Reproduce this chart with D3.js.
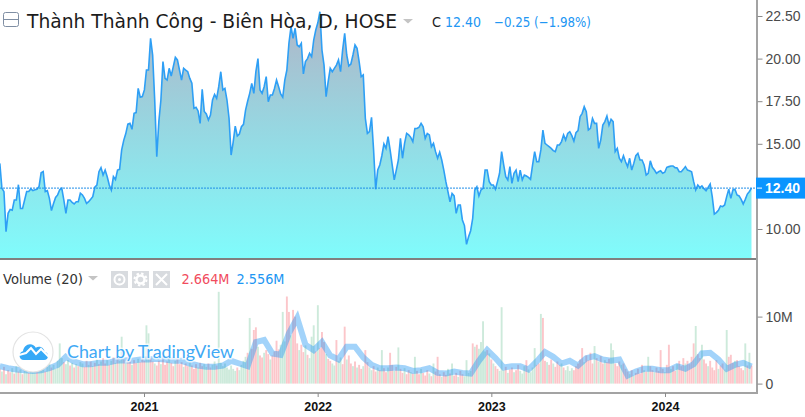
<!DOCTYPE html>
<html><head><meta charset="utf-8">
<script src="https://cdn.jsdelivr.net/npm/d3@7"></script>
<style>html,body{margin:0;padding:0;background:#fff}svg{display:block}</style></head>
<body><svg id="c" width="805" height="417"></svg>
<script>
const title = "Thành Thành Công - Biên Hòa, D, HOSE";
const lastClose = 12.40;
const priceTicks = [10, 15, 17.5, 20, 22.5];
const volumeTicks = [0, 10];
const yearTicks = ["2021", "2022", "2023", "2024"];
const firstSession = "2020-03-04";
const sessionStepDays = 4.34;
const closes = [
13.85,12.39,12.19,9.84,10.92,11.15,11.1,11.7,11.7,12.6,
11.2,11.2,11.7,12.2,12.2,12.35,12.25,12.3,12.33,12.5,
13.3,13.37,12.2,12.25,11.8,11.08,11.5,11.85,12.0,12.3,
12.39,11.7,10.92,11.7,11.7,11.56,11.47,11.6,11.6,12.1,
12.0,11.8,11.5,11.6,11.74,11.9,12.45,12.58,13.36,13.6,
13.17,13.46,13.07,12.58,12.29,13.07,12.9,13.46,13.5,14.64,
15.2,15.6,16.16,16.2,15.85,16.79,16.83,18.25,17.73,17.77,
18.16,19.33,19.33,21.19,20.2,17.57,14.24,16.3,17.57,19.82,
18.84,18.74,19.43,18.98,19.53,20.07,19.92,19.33,18.74,19.43,
19.33,19.23,18.84,18.55,17.08,17.14,16.93,16.2,18.2,16.9,
16.75,16.4,16.69,17.57,17.9,17.67,18.35,19.23,18.16,18.25,
17.57,16.5,14.34,15.1,16.04,15.46,15.57,16.0,16.14,16.98,
17.5,17.96,18.55,17.96,19.23,20.0,18.16,17.96,18.35,18.94,
17.47,17.86,17.86,18.25,18.74,18.35,17.92,17.73,18.74,19.33,
20.9,21.87,21.19,21.78,20.8,20.7,20.9,19.1,19.82,20.0,
20.31,20.11,21.09,21.68,22.1,22.75,20.5,19.62,17.77,18.65,
19.43,19.23,19.43,19.62,19.92,19.23,20.5,21.48,20.21,19.57,
19.68,20.21,20.8,20.6,19.82,18.94,19.04,16.5,15.61,15.71,
16.55,14.64,12.33,13.46,13.76,14.3,14.99,14.73,15.42,14.64,
13.76,12.88,13.46,14.05,15.32,14.15,15.03,15.61,15.52,15.38,
15.13,15.9,15.9,15.97,16.2,16.0,15.32,15.61,15.52,14.83,
15.03,14.54,14.15,14.5,14.05,13.46,12.78,12.19,11.6,12.09,
11.94,10.92,11.41,11.41,10.53,10.2,9.1,9.55,9.9,10.63,
12.29,12.48,11.94,12.29,12.39,13.46,13.46,12.78,12.58,12.58,
12.33,12.78,13.27,14.54,13.76,13.07,12.88,13.66,12.68,13.27,
13.46,12.78,13.46,12.88,13.17,13.11,13.03,12.91,13.76,14.54,
13.95,13.95,14.64,15.81,15.03,14.93,14.83,14.73,14.6,14.54,
14.93,14.93,15.13,15.52,15.22,15.61,15.71,15.48,15.16,15.65,
15.77,16.59,16.79,17.18,16.89,15.81,15.91,16.49,16.2,16.2,
14.73,15.22,16.1,16.3,16.63,16.1,16.44,16.3,14.54,14.73,
14.15,13.95,14.3,13.95,13.66,14.15,13.46,13.85,14.3,14.44,
14.05,14.05,13.76,13.17,13.27,14.0,13.62,13.46,13.27,13.36,
13.42,13.27,13.33,13.62,13.66,13.7,13.7,13.6,13.58,13.36,
13.36,13.5,13.66,13.46,13.42,13.36,12.78,12.29,12.58,12.43,
12.53,12.37,12.25,12.44,12.64,11.9,10.88,10.96,11.1,11.35,
11.31,11.41,11.9,12.33,11.8,12.29,12.33,12.0,11.94,11.74,
11.47,11.74,12.05,12.2,12.4];
const volumes = [
2.2,1.8,2.5,1.4,2.0,1.7,2.3,1.5,2.6,1.8,2.1,1.4,1.9,2.4,1.6,2.2,2.8,1.7,2.4,1.9,
2.0,2.6,1.8,2.5,3.0,2.4,2.8,2.2,3.4,6.0,3.8,3.2,2.9,3.5,2.7,3.1,2.4,2.9,2.6,3.2,
3.0,2.5,3.4,2.8,3.3,2.6,3.1,3.6,2.9,3.3,3.8,3.0,3.5,2.8,3.4,3.9,3.1,4.2,3.4,7.0,
3.6,3.0,3.9,3.3,2.8,3.5,3.1,3.7,3.2,4.0,3.4,8.7,7.5,3.8,3.3,3.0,2.7,3.4,2.9,3.6,
2.8,3.3,3.9,3.1,2.6,3.4,3.7,2.9,3.2,2.5,3.0,2.6,3.3,2.7,2.2,2.9,2.4,3.1,2.6,2.9,
2.5,3.0,2.4,2.8,3.3,2.7,13.7,3.1,2.6,3.0,2.4,2.1,2.7,2.2,1.9,2.4,2.0,2.8,3.4,4.0,
4.6,9.8,5.2,8.0,8.4,5.5,4.2,3.9,4.6,5.0,4.4,3.6,4.2,4.8,6.4,5.1,5.8,10.7,6.3,13.0,
10.7,7.2,11.0,10.0,6.0,5.0,5.8,4.7,5.7,4.3,3.8,7.0,8.7,4.8,11.7,5.3,7.7,6.2,4.4,3.7,
3.4,3.0,2.7,6.5,3.4,3.9,2.9,8.5,3.6,4.2,3.0,2.6,3.3,2.4,2.8,2.2,2.6,5.0,3.2,2.4,
2.0,2.6,1.8,2.4,2.0,5.0,2.3,1.7,2.4,4.6,2.8,1.9,2.5,5.4,2.2,1.6,2.3,1.4,2.0,1.7,
1.5,4.0,1.9,1.4,2.2,1.6,1.2,2.0,1.5,1.1,3.0,1.8,4.0,1.4,1.0,1.7,1.3,2.2,1.5,3.0,
1.2,1.6,1.0,1.9,1.4,1.1,3.5,1.6,1.9,6.0,5.5,5.8,5.2,6.2,9.3,4.8,5.0,4.5,3.6,3.0,
2.6,2.2,1.9,11.4,2.0,2.5,1.6,2.1,2.4,1.7,2.0,2.8,1.9,1.5,2.6,3.5,2.1,1.7,2.4,5.3,
2.8,3.0,10.4,9.8,3.4,3.2,2.8,3.6,3.0,2.5,3.3,2.8,3.0,2.4,2.0,2.6,1.9,2.3,2.0,2.6,
3.0,3.6,5.3,3.2,4.2,3.5,4.6,3.0,5.6,3.8,3.3,4.1,3.0,3.5,3.2,3.7,6.0,5.0,3.0,2.6,
3.3,2.8,3.0,2.2,1.8,1.4,2.0,1.2,1.6,2.2,1.5,2.8,2.0,1.8,4.0,2.6,2.0,1.7,2.4,1.9,
5.0,2.2,1.7,2.8,5.8,2.2,2.6,1.9,2.9,3.4,2.6,3.8,3.0,3.4,2.9,4.0,6.0,8.6,4.4,3.8,
5.8,3.6,3.0,2.6,3.4,2.4,2.0,3.5,2.2,2.7,3.0,2.1,8.0,4.0,4.3,3.1,3.4,3.5,2.6,2.3,
2.0,6.0,2.7,4.6,2.7];
const volumeSides = [
"rgrgrrgrgrgrggrgggrg","ggrggrgggggrggrgrgrg","grrgrgrgrgrrgrgrgrgg","rgrrgrrgrrrggrrgrrgr",
"rrgrrgrrrgrrgrrrgrrg","grrggrgggggggggrgggg","rgrrrgrrgrrgrrrrgggr","rgrrrgrrgrgggrgrrrgr",
"rggrggrrgrrgrgrrgrrg","grrgrgrrgrrgrgrrgrrg","rgrrgrrrgrgrrrgrrgrg","rrgrrggggrgrggggrgrg",
"rrgggrgrrgrrgggrgggg","rrgrrgrrgrrrgrggggrr","rrrgrrrrgrgrrgrrggrr","rgrrrgrgrrrrgrgrrgrr",
"rrgrrgrrgrrrgrrrrgrr","grrgrrrrgrrggrrrgrrr","rgrgr"].join("");
const volumeMA = [
2.6,2.3,2.1,2.0,1.9,2.0,2.3,2.8,4.0,3.3,
2.9,2.9,3.1,3.1,3.4,3.5,3.4,3.6,3.6,3.7,
3.6,3.4,3.4,3.0,2.7,2.5,2.5,2.7,3.4,3.0,
2.6,6.2,6.5,4.5,4.3,7.5,9.8,5.8,5.0,6.2,
4.2,3.6,5.5,5.5,3.9,2.8,2.3,2.3,2.4,2.3,
1.9,2.0,2.3,1.6,1.5,1.8,1.6,1.5,3.4,5.0,
3.8,2.4,2.6,2.6,2.1,3.3,4.7,4.0,3.0,3.4,
2.7,3.8,4.1,3.6,3.4,3.6,1.2,1.8,2.2,2.2,
2.0,2.0,2.6,2.2,2.9,4.5,4.6,3.6,2.2,2.8,
3.1,2.556];
const maEverySessions = 4;

const svg = d3.select("#c");
const sans = "'Liberation Sans',Arial,sans-serif";
const legendFont = "'DejaVu Sans',sans-serif";
const blue = "#2e9ff5", axisGrey = "#a3a3a3", tickText = "#4a4a4a";
const paneRight = 756, priceBottom = 258, axisBottom = 392;

const start = new Date(firstSession + "T00:00:00Z").getTime();
const sessionDate = i => new Date(start + i * sessionStepDays * 864e5);
const yearDate = y => new Date(Date.UTC(+y, 0, 1));
const x = d3.scaleUtc().domain([yearDate(2021), yearDate(2024)]).range([144, 665]);
const y = d3.scaleLinear().domain([10, 22.5]).range([229, 16]);
const v = d3.scaleLinear().domain([0, 10]).range([383.6, 316.6]);
const xi = i => x(sessionDate(i));

const defs = svg.append("defs");
const grad = defs.append("linearGradient").attr("id", "fill").attr("gradientUnits", "userSpaceOnUse")
  .attr("x1", 0).attr("x2", 0).attr("y1", 10).attr("y2", priceBottom);
grad.append("stop").attr("offset", 0).attr("stop-color", "#b1b4c6");
grad.append("stop").attr("offset", 0.45).attr("stop-color", "#98d5e0");
grad.append("stop").attr("offset", 1).attr("stop-color", "#80fcfc");
defs.append("clipPath").attr("id", "pricePane").append("rect").attr("width", paneRight).attr("height", priceBottom);
defs.append("clipPath").attr("id", "volPane").append("rect").attr("y", 260).attr("width", paneRight).attr("height", axisBottom - 260);

const price = svg.append("g").attr("clip-path", "url(#pricePane)");
price.append("path").datum(closes).attr("fill", "url(#fill)")
  .attr("d", d3.area().x((d, i) => xi(i)).y0(priceBottom).y1(d => y(d)));
price.append("path").datum(closes).attr("fill", "none").attr("stroke", blue).attr("stroke-width", 1.6)
  .attr("stroke-linejoin", "miter").attr("d", d3.line().x((d, i) => xi(i)).y(d => y(d)));
price.append("line").attr("x1", 0).attr("x2", paneRight).attr("y1", y(lastClose)).attr("y2", y(lastClose))
  .attr("stroke", "#1f8ee8").attr("stroke-dasharray", "2,1").attr("stroke-width", 1);

const vol = svg.append("g").attr("clip-path", "url(#volPane)");
vol.selectAll("rect").data(volumes).join("rect")
  .attr("x", (d, i) => xi(i) - 0.95).attr("width", 1.9)
  .attr("y", d => v(d)).attr("height", d => v(0) - v(d))
  .attr("fill", (d, i) => volumeSides[i] === "g" ? "#cdeadb" : "#fcc6ca");
vol.append("path").datum(volumeMA).attr("fill", "none").attr("stroke", "#2196f3").attr("stroke-opacity", 0.42)
  .attr("stroke-width", 6).attr("stroke-linejoin", "miter")
  .attr("d", d3.line().x((d, i) => xi(i * maEverySessions)).y(d => v(d)));

// watermark
const wm = svg.append("g");
wm.append("circle").attr("cx", 33).attr("cy", 352).attr("r", 20).attr("fill", "#fff").attr("stroke", "#e3e3e3").attr("stroke-width", 1.2);
wm.append("path").attr("fill", "#36a9f7")
  .attr("d", "M24 360c-3 0-4.5-2-4.5-4.5 0-2.2 1.5-3.8 3.5-4.2 .6-4 3.4-7 7-7 2.6 0 4.6 1.4 5.8 3.4 1-.6 2-.9 3.2-.9 3 0 5.2 2.2 5.5 5 2.2.3 3.5 2 3.5 4.1 0 2.4-1.6 4.1-4 4.1z");
wm.append("path").attr("fill", "none").attr("stroke", "#fff").attr("stroke-width", 2)
  .attr("d", "M19 355l7-2 5-5 5 6 5-5 8 8");
wm.append("text").attr("x", 67).attr("y", 358).text("Chart by TradingView")
  .attr("font-family", "Lato,'Open Sans',sans-serif").attr("font-size", 18).attr("fill", "#3fa9f5")
  .attr("textLength", 167).attr("lengthAdjust", "spacingAndGlyphs")
  .attr("stroke", "#fff").attr("stroke-width", 3).attr("stroke-opacity", 0.75).attr("paint-order", "stroke");

// frame lines
svg.append("rect").attr("x", 0).attr("y", priceBottom).attr("width", 758).attr("height", 2).attr("fill", "#808080");
svg.append("rect").attr("x", paneRight).attr("y", 0).attr("width", 2).attr("height", axisBottom + 2).attr("fill", axisGrey);
svg.append("rect").attr("x", 0).attr("y", axisBottom).attr("width", 758).attr("height", 2).attr("fill", axisGrey);

function styleAxis(g, fs, col, weight) {
  g.select(".domain").remove();
  g.selectAll(".tick line").attr("stroke", "#8a8a8a");
  g.selectAll(".tick text").attr("font-family", sans).attr("font-size", fs).attr("fill", col).attr("font-weight", weight || 400);
}
const pa = svg.append("g").attr("transform", "translate(757.5,0)")
  .call(d3.axisRight(y).tickValues(priceTicks).tickFormat(d3.format(".2f")).tickSize(5).tickPadding(3));
styleAxis(pa, 14, tickText);
const va = svg.append("g").attr("transform", "translate(757.5,0)")
  .call(d3.axisRight(v).tickValues(volumeTicks).tickFormat(d => d ? d + "M" : "0").tickSize(5).tickPadding(3));
styleAxis(va, 14, tickText);
const ta = svg.append("g").attr("transform", "translate(0," + (axisBottom + 1) + ")")
  .call(d3.axisBottom(x).tickValues(yearTicks.map(yearDate)).tickFormat(d3.utcFormat("%Y")).tickSize(4).tickPadding(5));
styleAxis(ta, 12.5, "#111", 700);

// last price tag
svg.append("rect").attr("x", 756).attr("y", y(lastClose) - 10.5).attr("width", 49).attr("height", 21).attr("fill", "#0a95ff");
svg.append("line").attr("x1", 757).attr("x2", 762).attr("y1", y(lastClose)).attr("y2", y(lastClose)).attr("stroke", "#fff");
svg.append("text").attr("x", 765).attr("y", y(lastClose)).attr("dy", "0.35em").text(d3.format(".2f")(lastClose))
  .attr("font-family", sans).attr("font-size", 14).attr("font-weight", 700).attr("fill", "#fff");

// legend text helper: real text fitted to the reference width
function label(px, py, str, size, col, len) {
  svg.append("text").attr("x", px).attr("y", py).text(str).attr("font-family", legendFont)
    .attr("font-size", size).attr("fill", col).attr("textLength", len).attr("lengthAdjust", "spacingAndGlyphs");
}
// header legend
svg.append("rect").attr("x", 3.5).attr("y", 12.5).attr("width", 15).attr("height", 14).attr("rx", 2).attr("fill", "#fff").attr("stroke", "#7f8ea3");
svg.append("line").attr("x1", 4).attr("x2", 18).attr("y1", 19.5).attr("y2", 19.5).attr("stroke", "#7f8ea3");
label(27, 28, title, 20, "#1c1c1c", 370);
svg.append("path").attr("d", "M403 19h10l-5 4.5z").attr("fill", "#c4c4c4");
label(432, 27, "C", 14, "#222", 9);
label(445, 27, "12.40", 14, "#2196f3", 36);
label(494, 27, "−0.25 (−1.98%)", 14, "#2196f3", 97);

// volume legend
label(3, 284, "Volume (20)", 14, "#333", 80);
svg.append("path").attr("d", "M88 276h10l-5 4.5z").attr("fill", "#c4c4c4");
[111, 132, 153].forEach(bx => svg.append("rect").attr("x", bx).attr("y", 271).attr("width", 17).attr("height", 17).attr("fill", "#d8dbdf"));
svg.append("circle").attr("cx", 119.5).attr("cy", 279.5).attr("r", 5).attr("fill", "none").attr("stroke", "#fff").attr("stroke-width", 2);
svg.append("circle").attr("cx", 119.5).attr("cy", 279.5).attr("r", 1.5).attr("fill", "#fff");
svg.append("circle").attr("cx", 140.5).attr("cy", 279.5).attr("r", 4).attr("fill", "none").attr("stroke", "#fff").attr("stroke-width", 2.5);
svg.append("circle").attr("cx", 140.5).attr("cy", 279.5).attr("r", 6).attr("fill", "none").attr("stroke", "#fff").attr("stroke-width", 2).attr("stroke-dasharray", "2.4,2.3");
svg.append("path").attr("d", "M156 274l11 11M167 274l-11 11").attr("stroke", "#fff").attr("stroke-width", 2);
label(181.5, 284, "2.664M", 14, "#f14c5e", 48);
label(236.5, 284, "2.556M", 14, "#2196f3", 48);
</script></body></html>
